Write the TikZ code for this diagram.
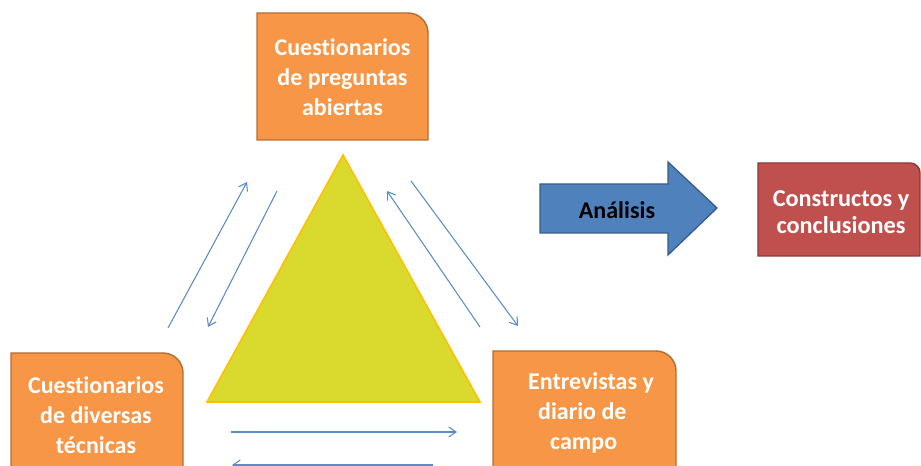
\documentclass[tikz,border=0pt]{standalone}
\usepackage{fontspec}
\setmainfont{Carlito}[Ligatures={NoCommon}]
\usetikzlibrary{arrows.meta,backgrounds}
\definecolor{orfill}{HTML}{F79646}
\definecolor{ordraw}{HTML}{B66D31}
\definecolor{redfill}{HTML}{C0504D}
\definecolor{reddraw}{HTML}{8C3836}
\definecolor{bluefill}{HTML}{4F81BD}
\definecolor{bluedraw}{HTML}{385D8A}
\definecolor{trifill}{HTML}{DADA2E}
\definecolor{tridraw}{HTML}{FFC000}
\definecolor{linkcol}{HTML}{5B8CC8}
\tikzset{
  boxtext/.style={text=white, font=\fontsize{18}{22.5}\selectfont\bfseries, align=center, inner sep=0pt},
  orbox/.style={fill=orfill, draw=ordraw, line width=1.1pt},
  redbox/.style={fill=redfill, draw=reddraw, line width=1.1pt},
  link/.style={draw=linkcol, line width=0.8pt, -{Straight Barb[length=5.5pt,width=7.5pt]}}
}
\begin{document}
\begin{tikzpicture}[x=0.75pt,y=0.75pt]
\useasboundingbox (0,0) rectangle (921,466);
\clip (0,0) rectangle (921,466);
% boxes
\draw[orbox] (257,326) -- (257,453) -- (408,453) arc[start angle=90,end angle=0,radius=20] -- (428,326) -- cycle;
\draw[orbox] (11,-30) -- (11,113) -- (163,113) arc[start angle=90,end angle=0,radius=20] -- (183,-30) -- cycle;
\draw[orbox] (493,-30) -- (493,115) -- (656,115) arc[start angle=90,end angle=0,radius=20] -- (676,-30) -- cycle;
\draw[redbox] (758,210) -- (758,303) -- (910,303) arc[start angle=90,end angle=0,radius=10] -- (920,210) -- cycle;
% triangle
\draw[fill=trifill, draw=tridraw, line width=1.2pt, line join=miter] (343,311) -- (480,64) -- (207,64) -- cycle;
% block arrow
\draw[fill=bluefill, draw=bluedraw, line width=1pt] (540,233) -- (540,282) -- (668,282) -- (668,304) -- (717,258) -- (668,211) -- (668,233) -- cycle;
% texts
\node[boxtext] (top) at (342.5,389) {Cuestionarios\\de preguntas\\abiertas};
\node[boxtext] (left) at (96,51) {Cuestionarios\\de diversas\\técnicas};
\node[boxtext] (right) at (591,53) {Entrevistas y\\diario de\rule{13pt}{0pt}\\campo\rule{11pt}{0pt}};
\node[boxtext, font=\fontsize{18.2}{20.3}\selectfont\bfseries] (concl) at (841,254) {Constructos y\\conclusiones};
\node[inner sep=0pt, font=\fontsize{18}{21}\selectfont\bfseries] (anal) at (617,256) {Análisis};
% link endpoints
\coordinate (a1s) at (168,138); \coordinate (a1e) at (247,284);
\coordinate (a2s) at (277,275); \coordinate (a2e) at (208,139);
\coordinate (a3s) at (480,139); \coordinate (a3e) at (387,275);
\coordinate (a4s) at (411,285); \coordinate (a4e) at (518,140);
\coordinate (a5s) at (231,34);  \coordinate (a5e) at (457,34);
\coordinate (a6s) at (433,1);   \coordinate (a6e) at (232,1);
\draw[link] (a1s) -- (a1e);
\draw[link] (a2s) -- (a2e);
\draw[link] (a3s) -- (a3e);
\draw[link] (a4s) -- (a4e);
\draw[link] (a5s) -- (a5e);
\draw[link] (a6s) -- (a6e);
\end{tikzpicture}
\end{document}
